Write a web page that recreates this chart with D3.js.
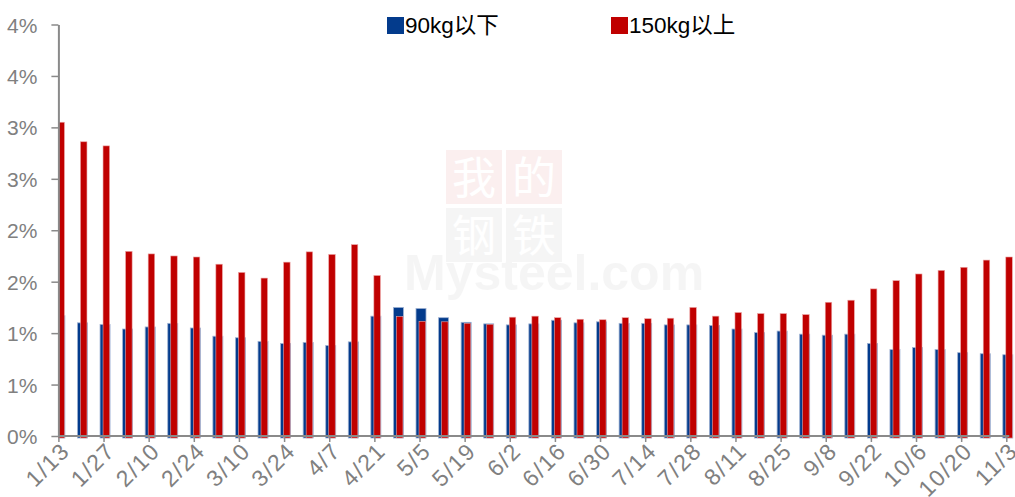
<!DOCTYPE html>
<html>
<head>
<meta charset="utf-8">
<script src="https://cdn.jsdelivr.net/npm/d3@7"></script>
<style>
  html, body { margin: 0; padding: 0; background: #ffffff; }
  svg { display: block; }
  .tick text { font-family: "Liberation Sans", Arial, sans-serif; }
</style>
</head>
<body>
<svg id="chart" width="1015" height="497"></svg>
<script>
// Weekly dates
const weeks = ["1/13","1/20","1/27","2/3","2/10","2/17","2/24","3/3","3/10","3/17","3/24","3/31",
  "4/7","4/14","4/21","4/28","5/5","5/12","5/19","5/26","6/2","6/9","6/16","6/23","6/30",
  "7/7","7/14","7/21","7/28","8/4","8/11","8/18","8/25","9/1","9/8","9/15","9/22","9/29",
  "10/6","10/13","10/20","10/27","11/3"];

// Share (%) for pigs under 90kg
const under90 = [1.17,1.10,1.085,1.04,1.06,1.095,1.05,0.97,0.955,0.92,0.90,0.91,
  0.88,0.915,1.165,1.25,1.24,1.15,1.105,1.09,1.08,1.09,1.125,1.10,1.11,
  1.095,1.095,1.08,1.08,1.075,1.04,1.005,1.02,0.99,0.98,0.99,0.90,0.84,
  0.86,0.84,0.81,0.80,0.79];

// Share (%) for pigs over 150kg
const over150 = [3.05,2.86,2.82,1.795,1.77,1.75,1.74,1.67,1.59,1.535,1.69,1.79,
  1.765,1.86,1.56,1.16,1.115,1.11,1.095,1.085,1.155,1.165,1.15,1.135,1.13,
  1.15,1.14,1.145,1.25,1.165,1.20,1.19,1.19,1.18,1.30,1.32,1.43,1.51,
  1.575,1.61,1.64,1.71,1.74];

const seriesNames = ["90kg以下", "150kg以上"];

// Y ticks every 0.5%, labels rounded to whole percent
const yTickValues = [0, 0.5, 1, 1.5, 2, 2.5, 3, 3.5, 4];
const yTickLabels = ["0%","1%","1%","2%","2%","3%","3%","4%","4%"];

const BLUE = "#033b8c", RED = "#c00000";
const AXIS = "#8a8a8a", LABEL = "#808080";

const svg = d3.select("#chart");
const plotLeft = 58.4, plotRight = 1006.3, plotTop = 24.5, plotBottom = 436;

const x = d3.scalePoint().domain(weeks).range([plotLeft, plotRight]);
const y = d3.scaleLinear().domain([0, 4]).range([plotBottom, plotTop]);

// Faint watermark
const wm = svg.append("g").attr("opacity", 0.06);
const wmChars = ["我", "的", "钢", "铁"];
wmChars.forEach((c, i) => {
  const cx = 446 + (i % 2) * 60, cy = 150 + Math.floor(i / 2) * 58;
  wm.append("rect").attr("x", cx).attr("y", cy).attr("width", 56).attr("height", 54)
    .attr("fill", i < 2 ? "#c00000" : "#666666");
  wm.append("text").attr("x", cx + 28).attr("y", cy + 44).attr("text-anchor", "middle")
    .attr("font-family", "Noto Sans CJK SC").attr("font-size", 44).attr("fill", "#ffffff").text(c);
});
wm.append("text").attr("x", 404).attr("y", 290)
  .attr("font-family", "Liberation Sans, Arial, sans-serif").attr("font-weight", "bold")
  .attr("font-size", 50).attr("fill", "#666666").text("Mysteel.com");

// Clip so the first bar is cut at the value axis
svg.append("clipPath").attr("id", "plotClip").append("rect")
  .attr("x", plotLeft).attr("y", 0).attr("width", 1015 - plotLeft).attr("height", 440);

const bars = svg.append("g").attr("clip-path", "url(#plotClip)");

bars.selectAll("rect.blue").data(weeks).join("rect")
  .attr("class", "blue")
  .attr("x", d => x(d) - 3.5)
  .attr("width", 10)
  .attr("y", (d, i) => y(under90[i]))
  .attr("height", (d, i) => y(0) - y(under90[i]) + 2)
  .attr("fill", BLUE)
  .attr("stroke", "#9fb2d3").attr("stroke-width", 0.8);

bars.selectAll("rect.red").data(weeks).join("rect")
  .attr("class", "red")
  .attr("x", d => x(d) - 0.5)
  .attr("width", 6.5)
  .attr("y", (d, i) => y(over150[i]))
  .attr("height", (d, i) => y(0) - y(over150[i]) + 2)
  .attr("fill", RED)
  .attr("stroke", "#eba3a3").attr("stroke-width", 0.6);

// Y axis
const yAxis = svg.append("g").attr("transform", `translate(${plotLeft},0)`)
  .call(d3.axisLeft(y).tickValues(yTickValues)
    .tickFormat((d, i) => yTickLabels[i]).tickSize(7).tickPadding(14).tickSizeOuter(0));
yAxis.select(".domain").attr("stroke", AXIS).attr("stroke-width", 2);
yAxis.selectAll(".tick line").attr("stroke", AXIS).attr("stroke-width", 1.5);
yAxis.selectAll(".tick text").attr("fill", LABEL).attr("font-size", 21)
  .attr("dy", "0.36em");

// X axis (label every other week)
const xTicks = weeks.filter((d, i) => i % 2 === 0);
const xAxis = svg.append("g").attr("transform", `translate(0,${plotBottom})`)
  .call(d3.axisBottom(x).tickValues(xTicks).tickSize(6).tickSizeOuter(0));
xAxis.select(".domain").attr("stroke", AXIS).attr("stroke-width", 2.2)
  .attr("d", `M${plotLeft},0H${plotRight + 3}`);
xAxis.selectAll(".tick line").attr("stroke", AXIS).attr("stroke-width", 1.5);
xAxis.selectAll(".tick text")
  .attr("fill", LABEL).attr("font-size", 23)
  .attr("letter-spacing", 1.5)
  .attr("text-anchor", "end")
  .attr("dy", null).attr("y", null)
  .attr("transform", "translate(8,12) rotate(-45)")
  .attr("dominant-baseline", "middle");

// Legend
const legend = svg.append("g").attr("font-family", "Liberation Sans, Arial, 'Noto Sans CJK SC', sans-serif")
  .attr("font-size", 22.5).attr("fill", "#000");
const legendItems = [
  { name: seriesNames[0], color: BLUE, x: 387 },
  { name: seriesNames[1], color: RED, x: 611 }
];
legendItems.forEach(it => {
  legend.append("rect").attr("x", it.x).attr("y", 17).attr("width", 17).attr("height", 17).attr("fill", it.color);
  legend.append("text").attr("x", it.x + 18).attr("y", 33).text(it.name);
});
</script>
</body>
</html>
